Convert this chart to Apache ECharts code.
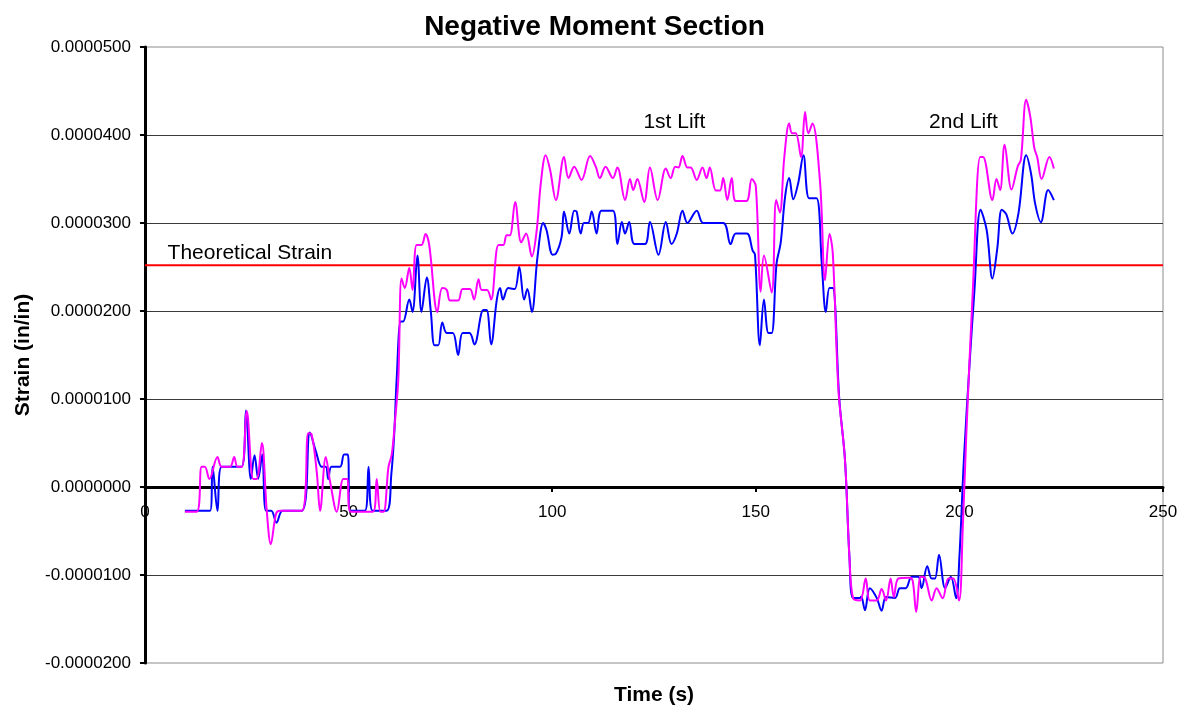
<!DOCTYPE html>
<html>
<head>
<meta charset="utf-8">
<title>Negative Moment Section</title>
<script src="https://cdn.jsdelivr.net/npm/echarts@6/dist/echarts.min.js"></script>
<style>
  html, body { margin: 0; padding: 0; background: #fff; }
  #chart { width: 1189px; height: 710px; }
</style>
</head>
<body>
<div id="chart"></div>
<script>
// Strain readings, in microstrain (1e-6 in/in), against time in seconds.
const gageATime = [
  9.8, 16.0, 16.6, 17.8, 18.8, 23.7, 24.8, 26.0, 26.9, 27.8, 28.8, 29.7, 31.0, 32.3, 33.8,
  38.5, 40.5, 42.0, 43.4, 44.4, 45.0, 45.8, 47.9, 48.9, 49.8, 50.3, 54.0, 54.9, 55.9, 59.3,
  60.5, 61.2, 61.8, 62.8, 63.4, 64.9, 65.7, 66.9, 67.9, 69.2, 70.2, 71.1, 72.0, 73.0, 74.1,
  75.6, 76.9, 78.0, 79.7, 80.9, 83.1, 83.9, 85.0, 86.4, 87.2, 87.9, 89.2, 90.8, 91.9, 93.1,
  93.9, 95.0, 96.4, 97.8, 98.6, 100.1, 100.9, 102.3, 102.9, 104.2, 105.4, 106.0, 107.0, 107.8, 108.8,
  109.7, 110.9, 112.1, 114.9, 116.0, 117.1, 117.9, 118.9, 120.2, 122.8, 124.0, 126.1, 127.9, 129.3, 130.6,
  132.0, 133.2, 135.5, 137.1, 142.0, 143.8, 145.1, 147.8, 149.2, 149.8, 151.0, 152.0, 153.1, 153.9, 155.1,
  156.1, 157.2, 158.2, 159.2, 160.4, 161.7, 163.1, 164.9, 166.2, 167.2, 168.1, 168.9, 170.5, 171.9, 173.0,
  173.9, 175.6, 175.9, 176.8, 178.0, 179.7, 180.9, 182.0, 184.2, 185.4, 186.8, 188.3, 189.9, 190.7, 192.1,
  193.2, 194.0, 195.0, 196.5, 197.9, 199.2, 200.0, 201.1, 202.5, 203.7, 205.2, 206.7, 208.1, 209.3, 210.4,
  211.5, 213.0, 214.5, 216.4, 217.6, 218.6, 220.0, 221.8, 223.2
];
const gageAStrain = [
  -2.7, -2.7, 2.3, -2.7, 2.3, 2.3, 8.7, 0.9, 3.6, 0.95, 3.7, -2.7, -2.7, -4.05, -2.7,
  -2.7, 6.2, 4.0, 2.3, 2.3, 0.9, 2.3, 2.3, 3.7, 3.7, -2.7, -2.7, 2.3, -2.7, -2.7,
  1.5, 6.0, 12.2, 18.8, 18.8, 21.3, 19.9, 26.3, 19.9, 23.8, 19.9, 16.1, 16.1, 18.7, 17.5,
  17.5, 15.0, 17.5, 17.5, 16.2, 20.1, 20.1, 16.2, 21.3, 22.6, 21.3, 22.6, 22.5, 25.0, 21.3,
  22.5, 19.9, 26.2, 30.0, 29.2, 26.4, 26.5, 28.4, 31.3, 28.8, 31.4, 31.3, 28.8, 30.0, 30.0,
  31.3, 28.8, 31.4, 31.4, 27.6, 30.1, 28.8, 30.1, 27.6, 27.6, 30.1, 26.4, 30.1, 27.6, 28.8,
  31.4, 30.0, 31.4, 30.0, 30.0, 27.6, 28.8, 28.8, 26.9, 26.4, 16.1, 21.3, 17.5, 17.5, 25.4,
  27.7, 33.0, 35.1, 32.7, 34.5, 37.7, 32.8, 32.8, 25.4, 19.9, 22.6, 22.6, 10.0, 3.1, -8.0,
  -12.6, -12.6, -12.45, -14.0, -11.5, -12.6, -14.05, -12.5, -12.6, -11.5, -11.5, -10.2, -10.2, -11.5, -9.0,
  -10.4, -10.4, -7.7, -11.5, -10.2, -12.65, -8.0, 3.1, 14.0, 22.4, 31.5, 29.2, 23.7, 27.1, 31.5,
  31.0, 28.8, 31.1, 37.7, 35.6, 32.2, 30.1, 33.75, 32.6
];

const gageBTime = [
  9.8, 12.7, 13.9, 14.7, 15.8, 17.8, 18.8, 20.9, 21.9, 22.7, 23.8, 25.0, 26.6, 27.4, 28.7,
  29.9, 30.9, 32.2, 33.2, 38.5, 40.1, 40.9, 42.2, 43.0, 44.4, 45.5, 47.1, 48.7, 49.6, 50.5,
  56.0, 56.9, 57.8, 58.6, 59.8, 60.6, 61.4, 62.2, 63.0, 63.8, 64.9, 65.7, 66.7, 67.9, 68.9,
  69.8, 71.8, 73.0, 74.1, 74.9, 76.9, 78.0, 79.8, 80.8, 81.9, 82.7, 84.0, 85.0, 86.8, 88.0,
  88.8, 89.6, 90.9, 92.4, 93.6, 95.0, 96.2, 97.2, 98.4, 99.5, 100.9, 102.9, 104.0, 105.4, 107.2,
  109.3, 110.7, 111.7, 113.1, 114.9, 116.0, 117.9, 119.1, 119.9, 120.9, 122.6, 124.0, 125.9, 127.9, 129.1,
  130.2, 131.0, 132.0, 133.2, 134.0, 135.5, 136.9, 137.9, 138.7, 140.2, 141.2, 142.0, 143.0, 144.1, 145.1,
  147.7, 149.0, 150.0, 151.2, 152.0, 153.9, 155.0, 155.9, 157.0, 158.2, 158.9, 159.8, 161.1, 162.1, 162.9,
  163.9, 165.8, 167.0, 168.1, 168.9, 170.3, 171.9, 173.0, 173.9, 175.6, 177.0, 178.0, 179.7, 180.9, 182.0,
  183.1, 183.9, 185.0, 187.6, 188.5, 189.4, 190.5, 191.5, 193.2, 194.4, 195.9, 197.3, 198.5, 199.9, 200.8,
  201.7, 203.3, 205.1, 205.8, 208.1, 209.1, 210.0, 211.1, 212.8, 214.3, 215.1, 216.4, 217.4, 218.4, 219.1,
  220.2, 222.1, 223.2
];
const gageBStrain = [
  -2.8, -2.8, 2.3, 2.3, 0.9, 3.4, 2.3, 2.3, 3.4, 2.3, 2.3, 8.6, 0.9, 0.9, 5.0,
  -2.7, -6.5, -3.0, -2.7, -2.7, 6.1, 6.0, 1.6, -2.7, 3.4, 0.5, -2.8, 0.9, 0.9, -2.8,
  -2.8, 0.9, -2.8, -2.8, 2.3, 3.7, 7.5, 12.2, 23.7, 22.6, 24.9, 22.4, 27.5, 27.5, 28.75,
  27.5, 19.9, 22.6, 22.4, 21.2, 21.2, 22.5, 22.5, 21.3, 23.6, 22.4, 22.4, 21.3, 27.5, 27.5,
  28.6, 28.6, 32.4, 27.8, 28.8, 26.2, 29.2, 34.5, 37.7, 36.0, 32.6, 37.5, 35.1, 36.4, 34.9,
  37.6, 36.4, 35.1, 36.4, 35.1, 36.3, 32.6, 35.0, 33.75, 35.0, 32.4, 36.3, 32.6, 36.2, 35.1,
  36.4, 36.3, 37.6, 36.3, 36.3, 34.9, 36.3, 35.1, 36.3, 33.7, 33.7, 35.1, 32.6, 35.1, 32.5,
  32.5, 35.0, 34.2, 22.2, 26.3, 22.1, 32.6, 31.2, 37.5, 41.3, 40.2, 40.2, 37.5, 42.6, 40.2,
  41.3, 34.5, 23.5, 28.75, 26.6, 11.0, 3.1, -8.0, -12.65, -12.9, -10.4, -12.9, -12.9, -11.6, -12.9,
  -10.4, -12.5, -10.4, -10.3, -10.6, -14.2, -10.2, -10.3, -12.9, -11.5, -12.65, -10.4, -10.4, -12.9, -5.0,
  6.0, 22.4, 37.5, 37.5, 32.6, 35.0, 33.75, 38.9, 33.8, 36.4, 37.2, 44.0, 42.1, 38.5, 37.5,
  35.0, 37.5, 36.2
];

// Design value and the span it is drawn across
const theoreticalStrain = 25.2;
const theoreticalSpan = [0, 250];

// Text notes placed in data space: [time, microstrain, text]
const notes = [
  [130, 41.5, '1st Lift'],
  [201, 41.5, '2nd Lift']
];

const xTicks = { min: 0, max: 250, interval: 50 };
const yTicks = { min: -20, max: 50, interval: 10 };

const pair = (ts, vs) => ts.map((t, i) => [t, vs[i]]);
// Tick labels show strain in in/in with seven decimals
const fmtStrain = v => (v / 1e6).toFixed(7);

const FONT = 'Liberation Sans, Arial, sans-serif';

// Plot box, in pixels
const GRID = { left: 145, right: 26, top: 47, bottom: 47 };
const plotHeight = 710 - GRID.top - GRID.bottom;
// The time axis sits on the zero strain line
const zeroOffset = -plotHeight * (0 - yTicks.min) / (yTicks.max - yTicks.min);

const chart = echarts.init(document.getElementById('chart'), null, { renderer: 'canvas' });

chart.setOption({
  backgroundColor: '#ffffff',
  animation: false,
  title: {
    text: 'Negative Moment Section',
    left: 'center',
    top: 8,
    textStyle: { fontFamily: FONT, fontSize: 28, fontWeight: 'bold', color: '#000' }
  },
  grid: Object.assign({
    show: true, borderColor: '#8c8c8c', borderWidth: 1, backgroundColor: '#fff'
  }, GRID),
  xAxis: {
    type: 'value',
    position: 'bottom',
    offset: zeroOffset,
    min: xTicks.min, max: xTicks.max, interval: xTicks.interval,
    axisLine: { onZero: false, lineStyle: { color: '#000', width: 3 } },
    axisTick: { show: true, inside: false, length: 5, lineStyle: { color: '#000', width: 2 } },
    axisLabel: { margin: 17, fontFamily: FONT, fontSize: 17, color: '#000' },
    splitLine: { show: false }
  },
  yAxis: {
    type: 'value',
    min: yTicks.min, max: yTicks.max, interval: yTicks.interval,
    name: 'Strain (in/in)',
    nameLocation: 'middle',
    nameGap: 111,
    nameTextStyle: { fontFamily: FONT, fontSize: 21, fontWeight: 'bold', color: '#000' },
    axisLine: { onZero: false, lineStyle: { color: '#000', width: 3 } },
    axisTick: { show: true, length: 5, lineStyle: { color: '#000', width: 2 } },
    axisLabel: { margin: 14, fontFamily: FONT, fontSize: 17, color: '#000', formatter: fmtStrain },
    splitLine: { show: true, showMinLine: false, showMaxLine: false, lineStyle: { color: '#3a3a3a', width: 1 } }
  },
  graphic: [{
    type: 'text',
    x: 654, y: 695,
    style: {
      text: 'Time (s)', font: 'bold 21px ' + FONT, fill: '#000',
      textAlign: 'center', textVerticalAlign: 'middle'
    }
  }],
  series: [
    {
      name: 'Theoretical Strain',
      type: 'line',
      data: theoreticalSpan.map(t => [t, theoreticalStrain]),
      symbol: 'none',
      lineStyle: { color: '#ff0000', width: 2 },
      z: 3,
      markPoint: {
        symbol: 'circle', symbolSize: 0,
        data: [{
          coord: [5.3, theoreticalStrain],
          label: {
            show: true, position: 'right', offset: [-4, -12],
            formatter: 'Theoretical Strain',
            fontFamily: FONT, fontSize: 21, color: '#000'
          }
        }]
      }
    },
    {
      name: 'Gage A',
      type: 'line',
      data: pair(gageATime, gageAStrain),
      symbol: 'none',
      smooth: 0.35,
      lineStyle: { color: '#0000ff', width: 2 },
      z: 4
    },
    {
      name: 'Gage B',
      type: 'line',
      data: pair(gageBTime, gageBStrain),
      symbol: 'none',
      smooth: 0.35,
      lineStyle: { color: '#ff00ff', width: 2 },
      z: 5,
      markPoint: {
        symbol: 'circle', symbolSize: 0,
        data: notes.map(n => ({
          coord: [n[0], n[1]],
          label: {
            show: true, position: 'inside', formatter: n[2],
            fontFamily: FONT, fontSize: 21, color: '#000'
          }
        }))
      }
    }
  ]
});
</script>
</body>
</html>
